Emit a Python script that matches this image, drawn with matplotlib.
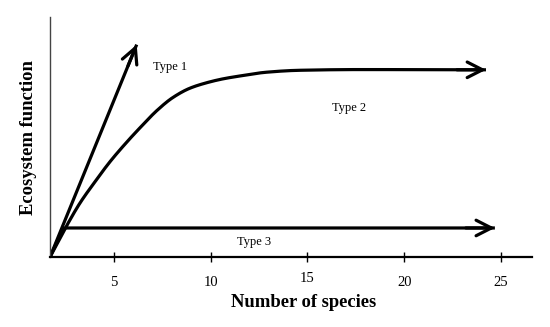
import matplotlib
matplotlib.use("Agg")
import matplotlib.pyplot as plt
import matplotlib.transforms as mtransforms
import numpy as np

# Data
type1_x = [1.7, 6.18]
type1_y = [0.0, 8.85]
type2_x = [1.7, 2.58, 3.25, 4.02, 4.79, 5.67, 6.44, 7.22, 8.04, 8.92, 9.79,
           10.62, 11.49, 12.89, 14.59, 17.68, 24.23]
type2_y = [0.0, 1.33, 2.25, 3.13, 3.96, 4.79, 5.46, 6.10, 6.64, 7.03, 7.26,
           7.42, 7.54, 7.70, 7.78, 7.81, 7.80]
type3_x = [1.7, 2.40, 24.69]
type3_y = [0.0, 1.21, 1.21]
xticks = [5, 10, 15, 20, 25]
labels = ["Type 1", "Type 2", "Type 3"]
label_pos = [(7.9, 7.9), (17.16, 6.2), (12.27, 0.62)]

plt.rcParams['font.family'] = ['Liberation Serif', 'DejaVu Serif']

fig = plt.figure(figsize=(5.5, 3.27), dpi=100)
ax = fig.add_axes([0.0909, 0.214, 0.967 - 0.0909, 0.948 - 0.214])
ax.set_xlim(1.7, 26.6)
ax.set_ylim(0, 10)

lw = 2.3
head = dict(arrowstyle='->,head_length=0.55,head_width=0.28', lw=lw, color='black',
            mutation_scale=20, shrinkA=0, shrinkB=0)


def pchip(x, y, xn):
    """Monotone cubic (Fritsch-Carlson) interpolation through the read points."""
    x = np.asarray(x, float)
    y = np.asarray(y, float)
    h = np.diff(x)
    d = np.diff(y) / h
    n = len(x)
    m = np.zeros(n)
    for k in range(1, n - 1):
        if d[k - 1] * d[k] <= 0:
            m[k] = 0
        else:
            w1 = 2 * h[k] + h[k - 1]
            w2 = h[k] + 2 * h[k - 1]
            m[k] = (w1 + w2) / (w1 / d[k - 1] + w2 / d[k])
    m[0] = d[0]
    m[-1] = d[-1]
    out = np.empty_like(xn)
    for j, v in enumerate(xn):
        k = min(np.searchsorted(x, v, side='right') - 1, n - 2)
        k = max(k, 0)
        t = (v - x[k]) / h[k]
        h00 = 2 * t ** 3 - 3 * t ** 2 + 1
        h10 = t ** 3 - 2 * t ** 2 + t
        h01 = -2 * t ** 3 + 3 * t ** 2
        h11 = t ** 3 - t ** 2
        out[j] = h00 * y[k] + h10 * h[k] * m[k] + h01 * y[k + 1] + h11 * h[k] * m[k + 1]
    return out


# Type 1
ax.plot(type1_x, type1_y, color='black', lw=lw, solid_capstyle='butt')
ax.annotate('', xy=(type1_x[-1], type1_y[-1]),
            xytext=(type1_x[0] + 0.9 * (type1_x[-1] - type1_x[0]),
                    type1_y[0] + 0.9 * (type1_y[-1] - type1_y[0])),
            arrowprops=head)

# Type 2
cx = np.linspace(type2_x[0], type2_x[-1], 500)
cy = pchip(type2_x, type2_y, cx)
ax.plot(cx, cy, color='black', lw=lw, solid_capstyle='butt')
ax.annotate('', xy=(type2_x[-1], type2_y[-1]), xytext=(type2_x[-1] - 1.5, type2_y[-1]),
            arrowprops=head)

# Type 3
ax.plot(type3_x, type3_y, color='black', lw=lw, solid_capstyle='butt')
ax.annotate('', xy=(type3_x[-1], type3_y[-1]), xytext=(type3_x[-1] - 1.5, type3_y[-1]),
            arrowprops=head)

for lab, (x, y) in zip(labels, label_pos):
    ax.text(x, y, lab, fontsize=9, ha='center', va='center')

ax.spines['top'].set_visible(False)
ax.spines['right'].set_visible(False)
ax.spines['left'].set_linewidth(1.0)
ax.spines['left'].set_color('#444444')
ax.spines['bottom'].set_linewidth(1.6)
ax.set_yticks([])
ax.set_xticks(xticks)
ax.tick_params(axis='x', direction='inout', length=7, width=1, pad=10, labelsize=10.5)

# the "15" label sits slightly higher in the original
t15 = ax.xaxis.get_major_ticks()[2].label1
t15.set_transform(t15.get_transform() + mtransforms.ScaledTranslation(0, 4 / 100, fig.dpi_scale_trans))

ax.set_xlabel('Number of species', fontsize=13.4, fontweight='bold')
ax.xaxis.set_label_coords(0.527, -0.155)
ax.set_ylabel('Ecosystem function', fontsize=13.4, fontweight='bold')
ax.yaxis.set_label_coords(-0.027, 0.496)

fig.savefig('out.png', dpi=100)
